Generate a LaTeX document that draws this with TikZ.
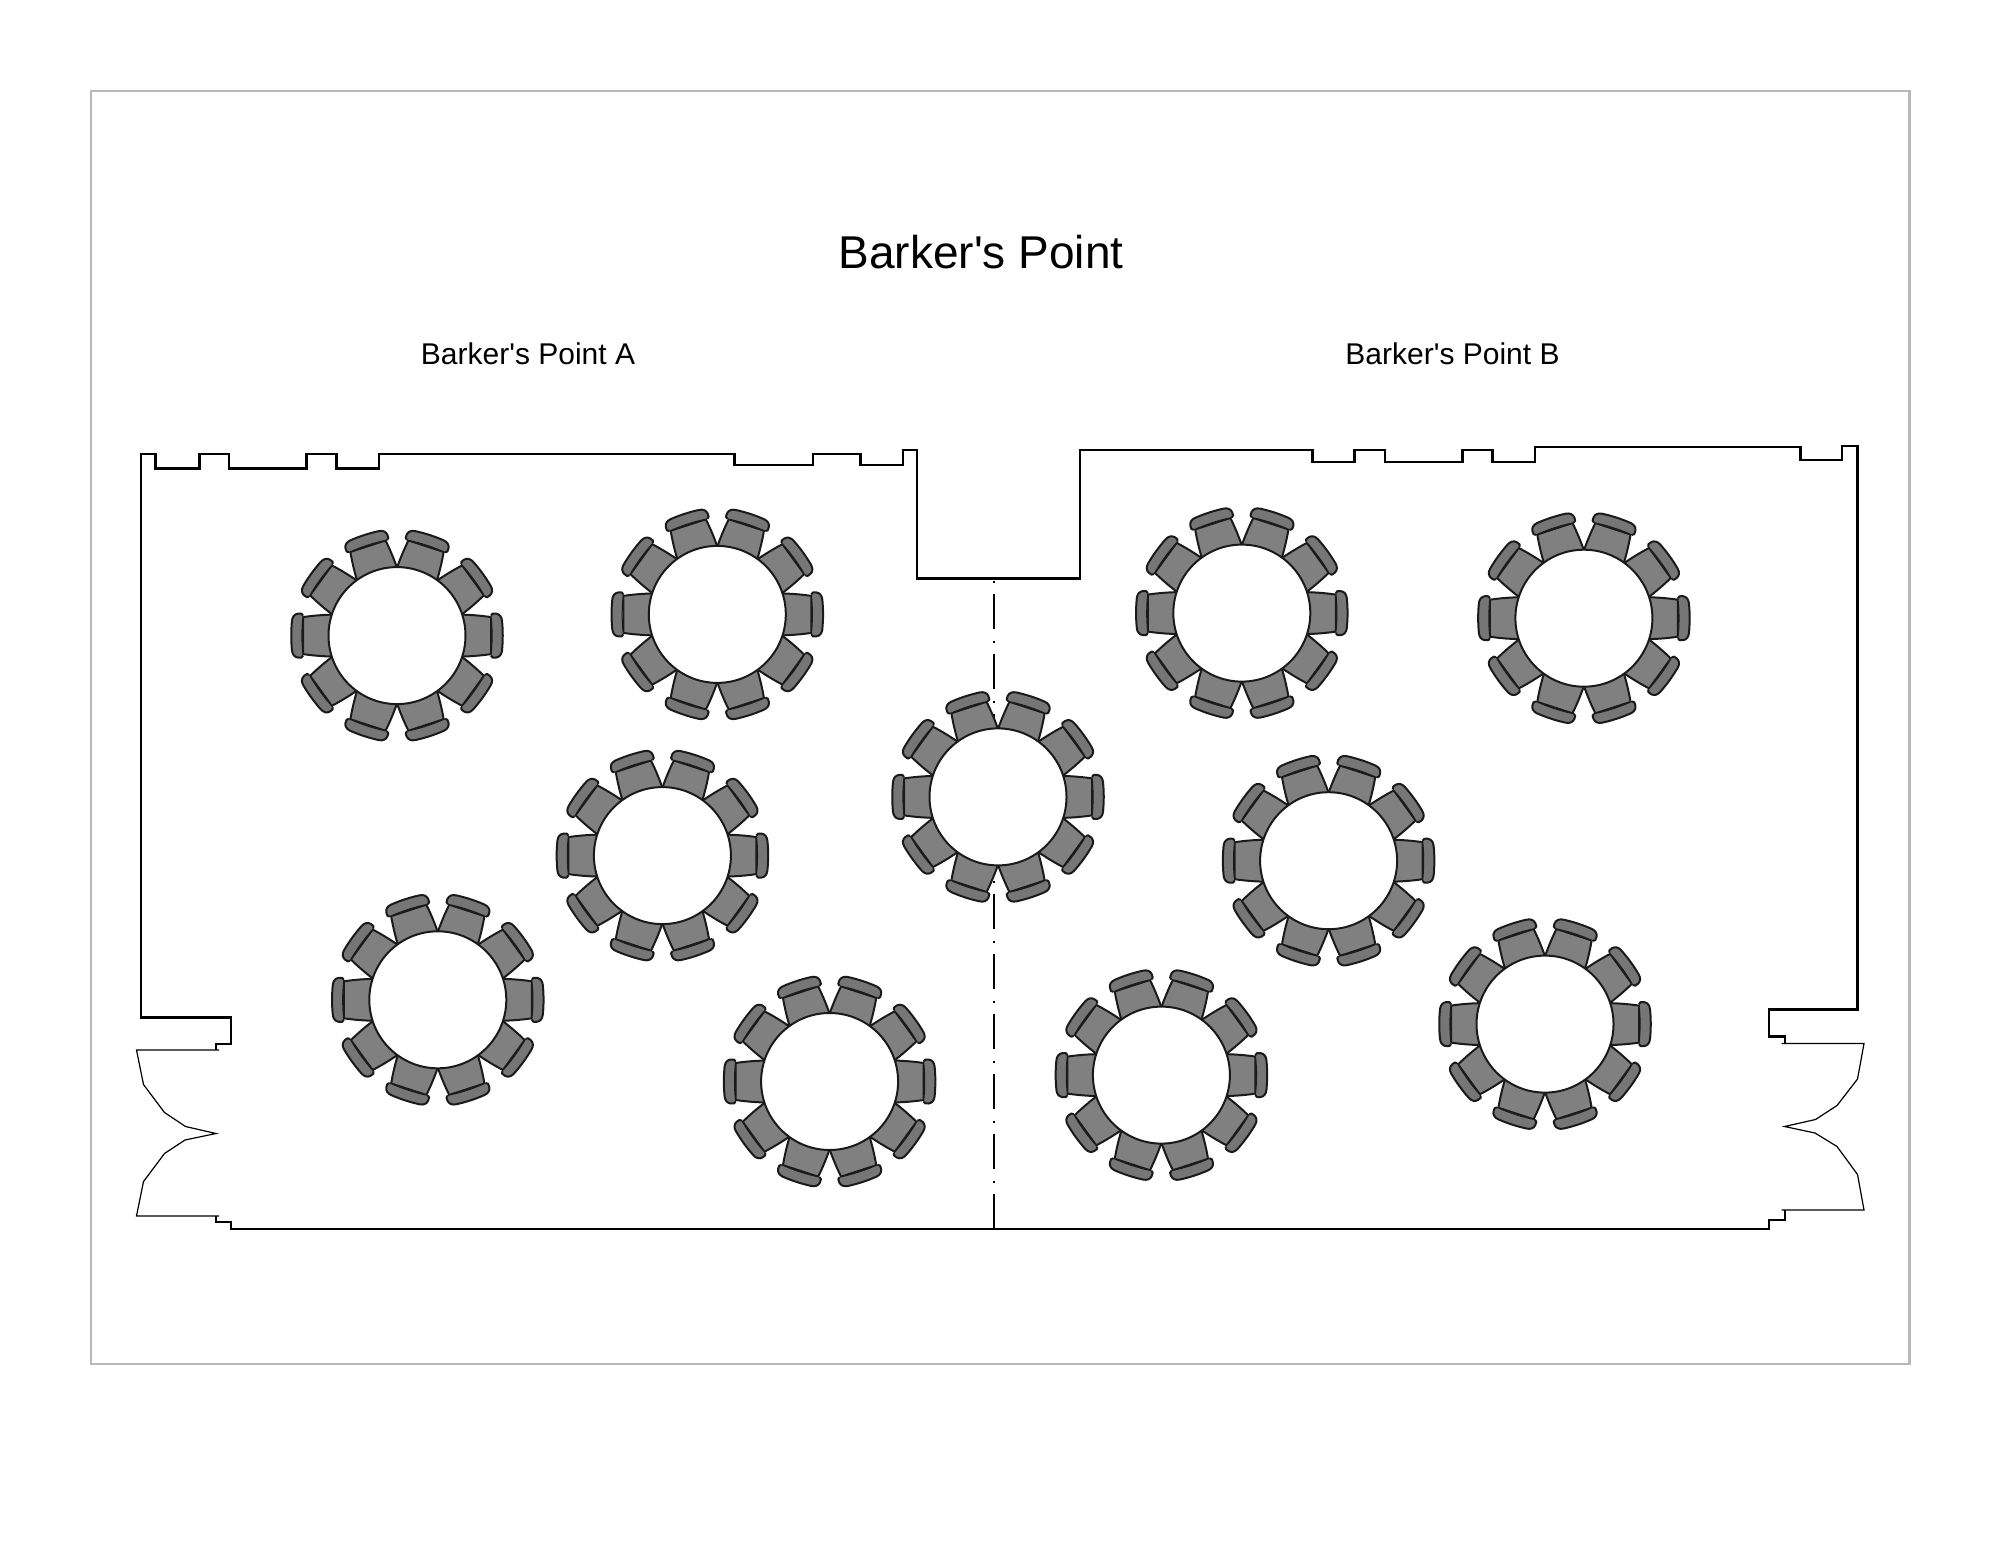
\documentclass[tikz,border=0pt]{standalone}
\usepackage{fontspec}
\newfontfamily\labelfont{Liberation Sans}
\usetikzlibrary{positioning}

\definecolor{framegray}{HTML}{B8B8B8}
\definecolor{seatgray}{HTML}{808080}
\definecolor{backgray}{HTML}{767676}
\definecolor{inkgray}{HTML}{1A1A1A}

\begin{document}
\begin{tikzpicture}
[
x=0.5pt, y=-0.5pt,
wall/.style={line width=1.25pt, black, miter limit=10},
door/.style={line width=0.6pt, black},
axisline/.style={line width=1pt, black, dash pattern=on 1pt off 5.5pt on 17.5pt off 6pt},
seat/.style={fill=seatgray, draw=inkgray, line width=1pt, line join=round},
chairback/.style={draw=inkgray, line width=1pt, line join=round},
titlelab/.style={font=\labelfont\fontsize{23}{27}\selectfont},
sublab/.style={font=\labelfont\fontsize{15}{18}\selectfont},
disc/.style={circle, draw=inkgray, fill=white, line width=1pt, minimum size=68.5pt, inner sep=0pt, outer sep=0pt},
chair/.pic={
	\draw[seat] (60,-21) .. controls (72,-21) and (84,-20) .. (94,-18.5) -- (94,18.5) .. controls (84,20) and (72,21) .. (60,21) -- cycle;
	\fill[backgray] (94,-20) .. controls (94.5,-22) and (96,-22.5) .. (99,-22) .. controls (102.5,-21.5) and (104.5,-19) .. (105,-15) .. controls (106,-5) and (106,5) .. (105,15) .. controls (104.5,19) and (102.5,21.5) .. (99,22) .. controls (96,22.5) and (94.5,22) .. (94,20) .. controls (95.5,8) and (95.5,-8) .. (94,-20) -- cycle;
	\draw[chairback] (94,-20) .. controls (94.5,-22) and (96,-22.5) .. (99,-22) .. controls (102.5,-21.5) and (104.5,-19) .. (105,-15) .. controls (106,-5) and (106,5) .. (105,15) .. controls (104.5,19) and (102.5,21.5) .. (99,22) .. controls (96,22.5) and (94.5,22) .. (94,20);
	\draw[inkgray, line width=0.5pt] (94,-20) .. controls (95.5,-8) and (95.5,8) .. (94,20);
},
roundtable/.pic={
	\foreach \a in {0,36,...,324}
		\pic[rotate=\a] {chair};
	\node (-top) [disc] at (0,0) {};
}]

	\useasboundingbox (0,0) rectangle (2000,1545);

	\draw[framegray, line width=1.25pt] (91,91) rectangle (1909.5,1364);

	\node (title) [titlelab] at (981,252.5) {Barker's Point};
	\node (labA) [sublab] at (528,354) {Barker's Point A};
	\node (labB) [sublab] at (1452.5,354) {Barker's Point B};

	% walls, left side then right side
	\draw[wall] (216,1050) -- (216,1044) -- (231,1044) -- (231,1017.5) -- (141,1017.5) -- (141,454) -- (155.5,454) -- (155.5,468.5) -- (199.5,468.5) -- (199.5,454) -- (229,454) -- (229,468.5) -- (306.5,468.5) -- (306.5,454) -- (336.5,454) -- (336.5,468.5) -- (379,468.5) -- (379,454) -- (734.5,454) -- (734.5,465) -- (813,465) -- (813,454) -- (860.5,454) -- (860.5,465) -- (903,465) -- (903,450) -- (917,450) -- (917,578.5) -- (1080,578.5) -- (1080,450) -- (1312.5,450) -- (1312.5,462) -- (1354.5,462) -- (1354.5,450) -- (1385,450) -- (1385,462) -- (1462.5,462) -- (1462.5,450) -- (1492.5,450) -- (1492.5,462) -- (1535,462) -- (1535,447) -- (1800.5,447) -- (1800.5,460) -- (1842,460) -- (1842,446) -- (1857.5,446) -- (1857.5,1009.5) -- (1769,1009.5) -- (1769,1036.5) -- (1785,1036.5) -- (1785,1044);
	\draw[wall] (216,1216) -- (216,1222) -- (231,1222) -- (231,1229) -- (1769,1229) -- (1769,1220) -- (1785,1220) -- (1785,1210);

	% doors
	\draw[door] (219,1050) -- (136.5,1050) -- (143.5,1084.5) -- (164.5,1112.5) -- (185.5,1126.5) -- (216,1133.5) -- (185,1140) -- (164.5,1153.5) -- (143.5,1181.5) -- (136.5,1216) -- (219,1216);
	\draw[door] (1781.5,1043.5) -- (1864,1043.5) -- (1857.5,1079) -- (1837,1105.5) -- (1815.5,1119.5) -- (1784.5,1126.5) -- (1815,1133) -- (1837,1146.5) -- (1857.5,1174.5) -- (1864,1210) -- (1781.5,1210);

	\draw[axisline] (993.5,580.5) -- (993.5,1229);

	\foreach \tname/\tx/\ty in {a/397/635.6, b/717.3/614.4, c/662.4/855.6, d/437.8/999.8, e/829.6/1081.5, f/998/796.9, g/1241.8/613.1, h/1583.9/618.2, i/1328.6/860.7, j/1161.4/1075.1, k/1545/1024.1}
		\pic (\tname) at (\tx,\ty) {roundtable};

\end{tikzpicture}
\end{document}
